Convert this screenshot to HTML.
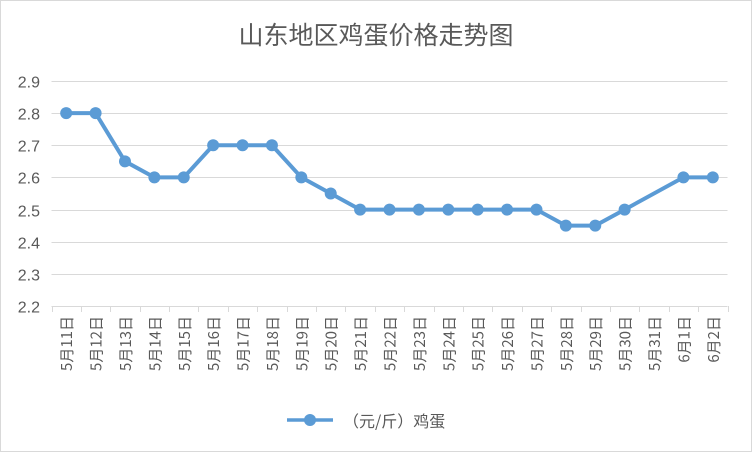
<!DOCTYPE html>
<html><head><meta charset="utf-8"><style>
body{margin:0;background:#fff}
svg{display:block;font-family:"Liberation Sans","Noto Sans CJK SC",sans-serif}
</style></head><body>
<svg width="752" height="452">
<rect x="0.5" y="0.5" width="751" height="451" fill="#fff" stroke="#d9d9d9"/>
<text x="376" y="44" text-anchor="middle" font-size="25" fill="#595959" font-family="'Noto Sans CJK SC',sans-serif">山东地区鸡蛋价格走势图</text>
<g id="grid"></g><g id="xaxis"></g><g id="series"></g>
<g>
<line x1="287" y1="420" x2="333" y2="420" stroke="#5b9bd5" stroke-width="3.5"/>
<circle cx="310" cy="420" r="6" fill="#5b9bd5"/>
<text x="343" y="427" font-size="16" fill="#595959" font-family="'Noto Sans CJK SC',sans-serif">（元/斤）鸡蛋</text>
</g>
</svg>
<script>
const categories=["5月11日","5月12日","5月13日","5月14日","5月15日","5月16日","5月17日","5月18日","5月19日","5月20日","5月21日","5月22日","5月23日","5月24日","5月25日","5月26日","5月27日","5月28日","5月29日","5月30日","5月31日","6月1日","6月2日"];
const values=[2.8,2.8,2.65,2.6,2.6,2.7,2.7,2.7,2.6,2.55,2.5,2.5,2.5,2.5,2.5,2.5,2.5,2.45,2.45,2.5,null,2.6,2.6];
const yTicks=[2.2,2.3,2.4,2.5,2.6,2.7,2.8,2.9];
const NS="http://www.w3.org/2000/svg";
const x0=51.5,x1=727.5,yMin=2.2,yMax=2.9,yTop=81,yBot=306;
const bw=(x1-x0)/categories.length;
const xS=i=>x0+bw*(i+0.5);
const yS=v=>yBot-(v-yMin)/(yMax-yMin)*(yBot-yTop);
function mk(t,a,p){const e=document.createElementNS(NS,t);for(const k in a)e.setAttribute(k,a[k]);p.appendChild(e);return e;}
const grid=document.getElementById('grid');
yTicks.forEach(v=>{
 const y=Math.round(yS(v))+0.5;
 const l=mk('line',{x1:x0,x2:x1,y1:y,y2:y,stroke:'#d9d9d9','stroke-width':1},grid);
 
 
 const t=mk('text',{x:40,y:y+6,'text-anchor':'end','font-size':16,fill:'#595959'},grid);
 t.textContent=v.toFixed(1);
 
 
});
const xa=document.getElementById('xaxis');
for(let i=0;i<=categories.length;i++){
 const x=Math.round(x0+bw*i)+0.5;
 const tk=mk('line',{x1:x,x2:x,y1:306,y2:312,stroke:'#d9d9d9'},xa);
 
 
}
categories.forEach((c,i)=>{
 const x=xS(i)+6;
 const t=mk('text',{x:x,y:316,'text-anchor':'end','font-size':15,fill:'#595959',transform:`rotate(-90 ${x} 316)`,'font-family':"'Noto Sans CJK SC',sans-serif"},xa);
 t.textContent=c;
 
 
});
const s=document.getElementById('series');
const pts=[];values.forEach((v,i)=>{if(v!==null)pts.push([xS(i),yS(v)]);});
const pl=mk('polyline',{points:pts.map(p=>p.join(',')).join(' '),fill:'none',stroke:'#5b9bd5','stroke-width':4,'stroke-linejoin':'round'},s);


pts.forEach(p=>{
 const c=mk('circle',{cx:p[0],cy:p[1],r:6,fill:'#5b9bd5'},s);
 
 
});
</script>
</body></html>
